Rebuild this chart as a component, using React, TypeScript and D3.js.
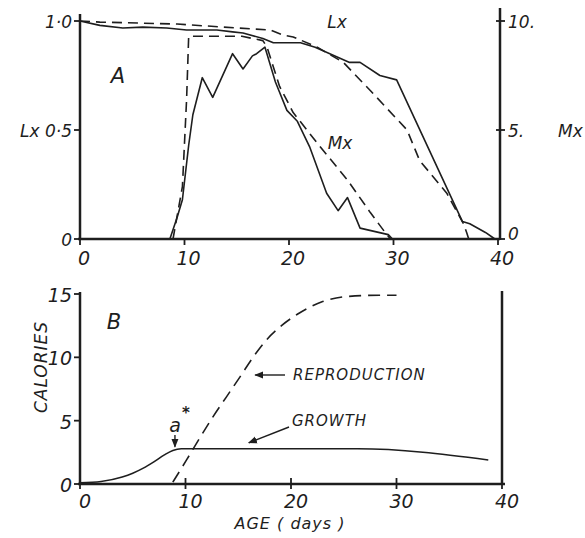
import React, { useEffect, useRef } from "react";
import * as d3 from "d3";

// Panel A: survivorship (Lx) and fecundity (Mx), observed (solid) vs model (dashed)
const lxObservedAge = [0, 1.9, 4.1, 6.0, 8.3, 10.2, 13.1, 14.6, 15.6, 17.5, 18.5, 21.1, 22.5, 25.8, 26.8, 28.7, 30.3, 36.6, 37.3, 38.8, 39.7];
const lxObserved = [1.0, 0.98, 0.968, 0.972, 0.968, 0.959, 0.959, 0.95, 0.945, 0.92, 0.9, 0.9, 0.88, 0.81, 0.81, 0.75, 0.73, 0.08, 0.07, 0.03, 0.0];
const lxModelAge = [0, 1.9, 9.3, 15.0, 18.2, 19.4, 20.4, 22.7, 25.2, 27.8, 31.3, 32.5, 35.1, 36.7, 37.0, 37.2];
const lxModel = [1.0, 0.995, 0.986, 0.968, 0.959, 0.936, 0.927, 0.88, 0.81, 0.68, 0.5, 0.36, 0.21, 0.07, 0.03, 0.0];
const mxObservedAge = [8.6, 9.3, 9.8, 10.4, 10.8, 11.7, 12.7, 14.6, 15.6, 16.5, 16.9, 17.7, 18.7, 19.8, 20.8, 22.0, 23.6, 24.7, 25.6, 26.8, 29.5, 29.9];
const mxObserved = [0, 1.0, 1.8, 4.3, 5.7, 7.4, 6.5, 8.5, 7.8, 8.4, 8.5, 8.8, 7.2, 5.9, 5.4, 4.2, 2.1, 1.3, 1.9, 0.5, 0.2, 0];
const mxModelAge = [8.9, 9.8, 10.2, 10.4, 15.5, 17.5, 17.9, 19.1, 20.4, 22.7, 25.6, 27.8, 29.2, 29.7];
const mxModel = [0, 2.4, 6.4, 9.3, 9.3, 9.1, 8.8, 7.0, 5.8, 4.4, 2.7, 1.2, 0.3, 0];

// Panel B: calories allocated to growth and reproduction
const growthAge = [0, 2.0, 4.0, 5.0, 6.0, 7.0, 8.0, 8.8, 9.6, 26.3, 38.7];
const growthCal = [0.1, 0.2, 0.55, 0.85, 1.25, 1.75, 2.3, 2.65, 2.78, 2.78, 1.9];
const reproAge = [8.8, 10.1, 11.4, 12.6, 13.9, 15.2, 16.4, 17.7, 19.1, 20.6, 23.0, 25.3, 28.4, 30.0];
const reproCal = [0.15, 1.9, 3.7, 5.3, 6.9, 8.5, 10.0, 11.4, 12.5, 13.4, 14.4, 14.8, 14.9, 14.9];

const ageTicks = [0, 10, 20, 30, 40];
const lxTicks = [0, 0.5, 1];
const lxTickLabels = ["0", "Lx 0·5", "1·0"];
const mxTicks = [0, 5, 10];
const mxTickLabels = ["0", "5.", "10."];
const calTicks = [0, 5, 10, 15];
const calTickLabels = ["0", "5", "10", "15"];

const INK = "#1e1e1e";
const FONT = "'DejaVu Sans', sans-serif";

const pairs = (xs: number[], ys: number[]) => xs.map((x, i) => [x, ys[i]] as [number, number]);

const App = () => {
  const ref = useRef<SVGSVGElement | null>(null);

  useEffect(() => {
    const svg = d3.select(ref.current);
    svg.selectAll("*").remove();

    svg
      .append("defs")
      .append("marker")
      .attr("id", "arr")
      .attr("viewBox", "0 0 10 10")
      .attr("refX", 9)
      .attr("refY", 5)
      .attr("markerWidth", 9)
      .attr("markerHeight", 9)
      .attr("markerUnits", "userSpaceOnUse")
      .attr("orient", "auto")
      .append("path")
      .attr("d", "M0,1 L10,5 L0,9 Z")
      .attr("fill", INK);

    const label = (x: number, y: number, t: string, size: number, anchor = "start") =>
      svg
        .append("text")
        .attr("x", x)
        .attr("y", y)
        .attr("text-anchor", anchor)
        .attr("dominant-baseline", "central")
        .attr("font-family", FONT)
        .attr("font-style", "italic")
        .attr("font-size", size)
        .attr("fill", INK)
        .text(t);

    // ---------- panel A ----------
    const xA = d3.scaleLinear().domain([0, 40]).range([80, 498]);
    const yLx = d3.scaleLinear().domain([0, 1]).range([239, 21]);
    const yMx = d3.scaleLinear().domain([0, 10]).range([239, 21]);

    const axis = (x1: number, y1: number, x2: number, y2: number) =>
      svg
        .append("line")
        .attr("x1", x1)
        .attr("y1", y1)
        .attr("x2", x2)
        .attr("y2", y2)
        .attr("stroke", INK)
        .attr("stroke-width", 2.5);

    axis(80, 14, 80, 240);
    axis(78, 239, 500, 239);
    axis(500, 8, 500, 240);

    ageTicks.forEach((t) => {
      axis(xA(t), 239, xA(t), 245).attr("stroke-width", 1.8);
      label(xA(t) + 4, 258, String(t), 19, "middle");
    });
    lxTicks.forEach((t, i) => {
      axis(74, yLx(t), 80, yLx(t)).attr("stroke-width", 1.8);
      label(72, yLx(t) + 1, lxTickLabels[i], 17, "end");
    });
    mxTicks.forEach((t, i) => {
      axis(496, yMx(t), 505, yMx(t)).attr("stroke-width", 1.8);
      label(508, yMx(t) - (t === 0 ? 5 : -1), mxTickLabels[i], 17, "start");
    });
    label(558, yMx(5) + 1, "Mx", 17, "start");
    label(118, 76, "A", 21, "middle");
    label(337, 22, "Lx", 17, "middle");
    label(340, 143, "Mx", 17, "middle");

    const lineA = (yScale: d3.ScaleLinear<number, number>) =>
      d3
        .line<[number, number]>()
        .x((d) => xA(d[0]))
        .y((d) => yScale(d[1]));

    const series = [
      { d: pairs(lxObservedAge, lxObserved), y: yLx, dash: null },
      { d: pairs(lxModelAge, lxModel), y: yLx, dash: "10,6" },
      { d: pairs(mxObservedAge, mxObserved), y: yMx, dash: null },
      { d: pairs(mxModelAge, mxModel), y: yMx, dash: "10,6" },
    ];
    series.forEach((s) => {
      svg
        .append("path")
        .datum(s.d)
        .attr("fill", "none")
        .attr("stroke", INK)
        .attr("stroke-width", 1.6)
        .attr("stroke-linejoin", "round")
        .attr("stroke-dasharray", s.dash)
        .attr("d", lineA(s.y));
    });

    // ---------- panel B ----------
    const xB = d3.scaleLinear().domain([0, 40]).range([80, 502]);
    const yB = d3.scaleLinear().domain([0, 15]).range([484, 294]);

    axis(80, 292, 80, 485);
    axis(78, 484, 505, 484);
    axis(502, 291, 502, 485);

    ageTicks.forEach((t) => {
      axis(xB(t), 478, xB(t), 489).attr("stroke-width", 1.8);
      label(xB(t) + 5, 501, String(t), 19, "middle");
    });
    calTicks.forEach((t, i) => {
      axis(74, yB(t), 80, yB(t)).attr("stroke-width", 1.8);
      label(72, yB(t) + 1, calTickLabels[i], 19, "end");
    });

    label(114, 322, "B", 21, "middle");
    label(290, 523, "AGE ( days )", 16, "middle").attr("letter-spacing", 1);
    svg
      .append("text")
      .attr("transform", "translate(41,367) rotate(-90)")
      .attr("text-anchor", "middle")
      .attr("dominant-baseline", "central")
      .attr("font-family", FONT)
      .attr("font-style", "italic")
      .attr("font-size", 17)
      .attr("letter-spacing", 1)
      .attr("fill", INK)
      .text("CALORIES");

    const lineB = d3
      .line<[number, number]>()
      .x((d) => xB(d[0]))
      .y((d) => yB(d[1]))
      .curve(d3.curveMonotoneX);

    svg
      .append("path")
      .datum(pairs(growthAge, growthCal))
      .attr("fill", "none")
      .attr("stroke", INK)
      .attr("stroke-width", 1.6)
      .attr("d", lineB);
    svg
      .append("path")
      .datum(pairs(reproAge, reproCal))
      .attr("fill", "none")
      .attr("stroke", INK)
      .attr("stroke-width", 1.6)
      .attr("stroke-dasharray", "12,7")
      .attr("d", lineB);

    // annotations
    label(293, 375, "REPRODUCTION", 15, "start").attr("letter-spacing", 1);
    label(292, 421, "GROWTH", 15, "start").attr("letter-spacing", 1);
    label(175, 425, "a", 19, "middle");
    label(186, 413, "*", 15, "middle").attr("font-weight", "bold");

    const arrow = (x1: number, y1: number, x2: number, y2: number) =>
      svg
        .append("line")
        .attr("x1", x1)
        .attr("y1", y1)
        .attr("x2", x2)
        .attr("y2", y2)
        .attr("stroke", INK)
        .attr("stroke-width", 1.4)
        .attr("marker-end", "url(#arr)");

    arrow(285, 375, xB(16.6), 375);
    arrow(289, 427, xB(16), yB(2.78) - 6);
    arrow(xB(9), 435, xB(9), yB(2.78) - 2);
  }, []);

  return (
    <svg
      ref={ref}
      width={585}
      height={538}
      style={{ position: "absolute", left: 0, top: 0, background: "#fff" }}
    />
  );
};

export default App;
